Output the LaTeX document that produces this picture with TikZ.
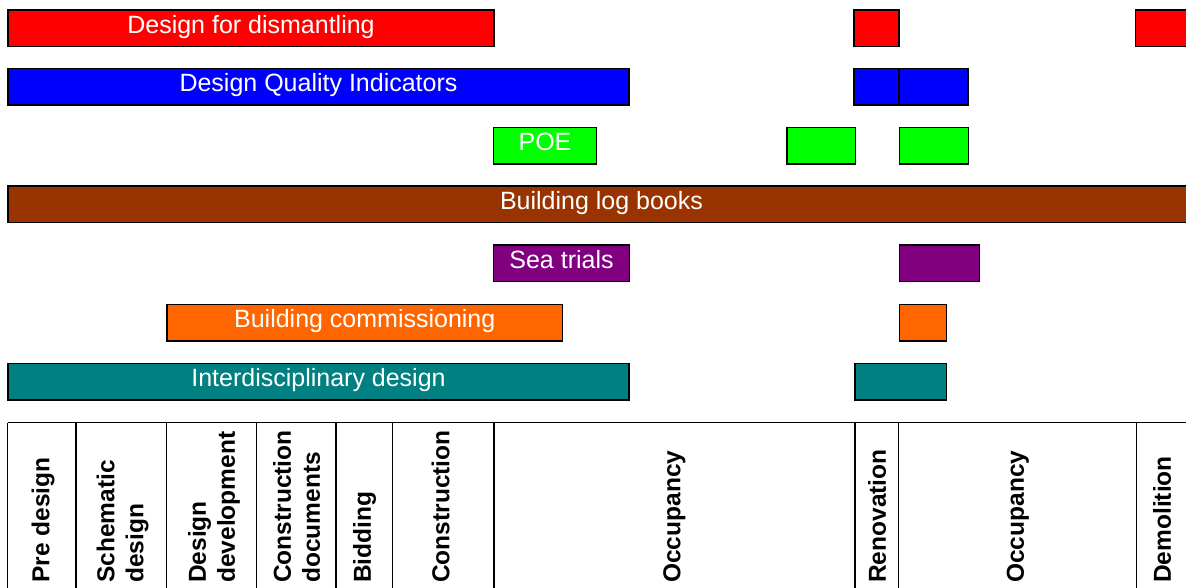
\documentclass[tikz,border=0pt]{standalone}
\usepackage{fontspec}
\setmainfont{Liberation Sans}
\definecolor{dismred}{HTML}{FF0000}
\definecolor{dqiblue}{HTML}{0000FF}
\definecolor{poegreen}{HTML}{00FF00}
\definecolor{logbrown}{HTML}{993300}
\definecolor{seapurple}{HTML}{800080}
\definecolor{commorange}{HTML}{FF6600}
\definecolor{interteal}{HTML}{008080}
\begin{document}
\begin{tikzpicture}[x=1pt,y=-1pt,
  bar/.style={draw=black, line width=1.7pt, rectangle, inner sep=0pt, outer sep=0pt,
    minimum height=36.5pt, text=white, font=\fontsize{25}{30}\selectfont,
    text height=18pt, text depth=8pt, anchor=north west},
  phase/.style={rotate=90, anchor=north west, inner sep=0pt, align=left,
    font=\bfseries\fontsize{24.5}{29}\selectfont},
  grid/.style={line width=1.5pt}]
\useasboundingbox (0,0) rectangle (1186,587);
\clip (0,0) rectangle (1186,587);

% activity bars
\node[bar, fill=dismred, minimum width=486pt] (dism) at (8,10) {Design for dismantling};
\node[bar, fill=dismred, minimum width=45pt] (dismb) at (854,10) {};
\node[bar, fill=dismred, minimum width=70pt] (dismc) at (1135.5,10) {};

\node[bar, fill=dqiblue, minimum width=621pt] (dqi) at (8,68.5) {Design Quality Indicators};
\node[bar, fill=dqiblue, minimum width=45pt] (dqib) at (854,68.5) {};
\node[bar, fill=dqiblue, minimum width=69pt] (dqic) at (899,68.5) {};

\node[bar, fill=poegreen, minimum width=103pt] (poe) at (493.5,127.5) {POE};
\node[bar, fill=poegreen, minimum width=68.5pt] (poeb) at (787,127.5) {};
\node[bar, fill=poegreen, minimum width=69pt] (poec) at (899.5,127.5) {};

\node[bar, fill=logbrown, minimum width=1187pt] (logb) at (8,186) {Building log books};

\node[bar, fill=seapurple, minimum width=136pt] (sea) at (493.5,245) {Sea trials};
\node[bar, fill=seapurple, minimum width=80pt] (seab) at (899.5,245) {};

\node[bar, fill=commorange, minimum width=395.5pt] (comm) at (167,304.5) {Building commissioning};
\node[bar, fill=commorange, minimum width=47pt] (commb) at (899.5,304.5) {};

\node[bar, fill=interteal, minimum width=621pt] (inter) at (8,363.5) {Interdisciplinary design};
\node[bar, fill=interteal, minimum width=91.5pt] (interb) at (855,363.5) {};

% phase table
\draw[grid] (7.5,422.5) -- (1186,422.5);
\foreach \xx in {7.5,76,166.5,256.5,336,392.5,494,855,898.5,1136.5}
  \draw[grid] (\xx,422.5) -- (\xx,590);

\node[phase] (p1) at (31.5,583) {Pre design};
\node[phase] (p2) at (96.5,583) {Schematic\\design};
\node[phase] (p3) at (188,583) {Design\\development};
\node[phase] (p4) at (273,583) {Construction\\documents};
\node[phase] (p5) at (353,583) {Bidding};
\node[phase] (p6) at (431.5,583) {Construction};
\node[phase] (p7) at (663,583) {Occupancy};
\node[phase] (p8) at (868,583) {Renovation};
\node[phase] (p9) at (1006.5,583) {Occupancy};
\node[phase] (p10) at (1153,583) {Demolition};
\end{tikzpicture}
\end{document}
